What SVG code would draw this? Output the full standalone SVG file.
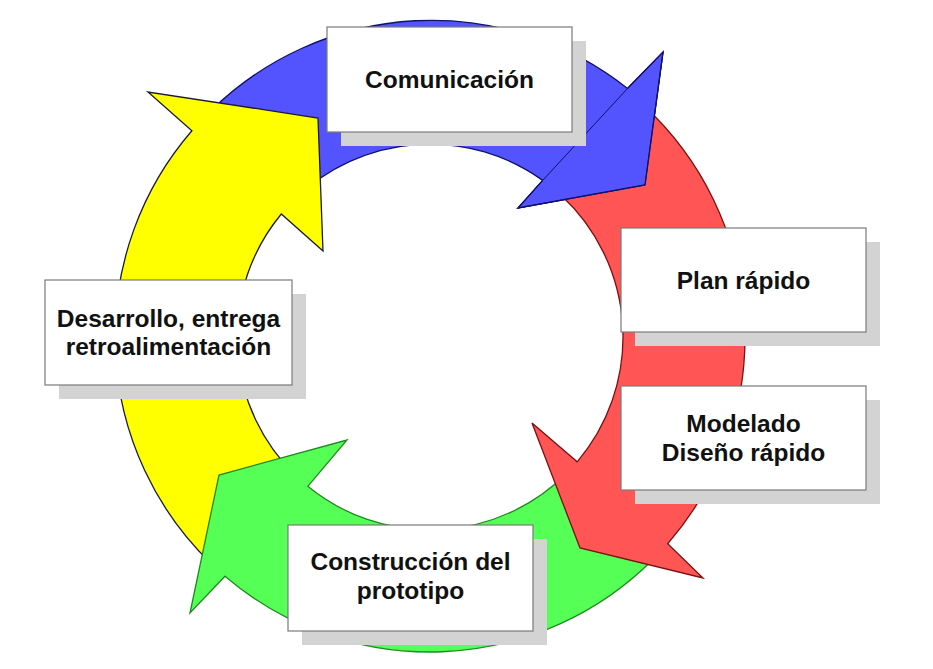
<svg xmlns="http://www.w3.org/2000/svg" width="933" height="669" viewBox="0 0 933 669">
<style>
.arrow{stroke-width:1.3;stroke-linejoin:miter}
.blue{fill:#5454ff;stroke:#10106e}
.yellow{fill:#ffff00;stroke:#1a1a3a}
.green{fill:#55ff55;stroke:#1f8a1f}
.red{fill:#ff5555;stroke:#7a1010}
.shadow{fill:#d3d3d3}
.box{fill:#ffffff;stroke:#7a7a7a;stroke-width:1.2}
.label{font-family:"Liberation Sans",Arial,sans-serif;font-weight:bold;font-size:24.5px;fill:#111;text-anchor:middle}
</style>
<rect width="933" height="669" fill="#ffffff"/>
<g id="connectors">
<path id="arrow-blue" class="arrow blue" d="M211.2,110.4 A315,315 0 0 1 627.5,88.5 L663,52 L645,185 L518,208 L542.7,180.4 A193,193 0 0 0 295.9,198.2 Z"/>
<path id="arrow-yellow" class="arrow yellow" d="M211.2,563.6 A315,315 0 0 1 191.9,130.8 L148,92 L318,118 L323,251 L281.3,214 A193,193 0 0 0 295.9,475.8 Z"/>
<path id="arrow-green" class="arrow green" d="M652.7,559.7 A315,315 0 0 1 225,576.2 L190,613 L219,475 L347,440 L307.8,486.3 A193,193 0 0 0 566.5,473.5 Z"/>
<path id="arrow-red" class="arrow red" d="M644.8,106.6 A315,315 0 0 1 667.7,543.7 L703,578 L580,548 L532,423 L577.2,461.8 A193,193 0 0 0 561.6,195.8 Z"/>
<path id="arrow-blue-head" class="blue" stroke="none" d="M627.5,88.5 L663,52 L645,185 L518,208 L542.7,180.4 Z"/>
<path class="arrow" fill="none" stroke="#10106e" d="M627.5,88.5 L663,52 L645,185 L518,208 L542.7,180.4"/>
</g>
<g id="node-comunicacion">
<rect class="shadow" x="341" y="41" width="245" height="105"/>
<rect class="box" x="327" y="27" width="245" height="105"/>
<text class="label" x="449.5" y="87.5">Comunicación</text>
</g>
<g id="node-plan">
<rect class="shadow" x="635" y="242" width="245" height="104"/>
<rect class="box" x="621" y="228" width="245" height="104"/>
<text class="label" x="743.5" y="288.5">Plan rápido</text>
</g>
<g id="node-modelado">
<rect class="shadow" x="635" y="400" width="245" height="104"/>
<rect class="box" x="621" y="386" width="245" height="104"/>
<text class="label" x="743.5" y="431.5">Modelado</text>
<text class="label" x="743.5" y="460.5">Diseño rápido</text>
</g>
<g id="node-construccion">
<rect class="shadow" x="302" y="539" width="245" height="106"/>
<rect class="box" x="288" y="525" width="245" height="106"/>
<text class="label" x="410.5" y="570">Construcción del</text>
<text class="label" x="410.5" y="598.5">prototipo</text>
</g>
<g id="node-desarrollo">
<rect class="shadow" x="59" y="294" width="247" height="105"/>
<rect class="box" x="45" y="280" width="247" height="105"/>
<text class="label" x="168.5" y="326.5">Desarrollo, entrega</text>
<text class="label" x="168.5" y="354.5">retroalimentación</text>
</g>
</svg>
